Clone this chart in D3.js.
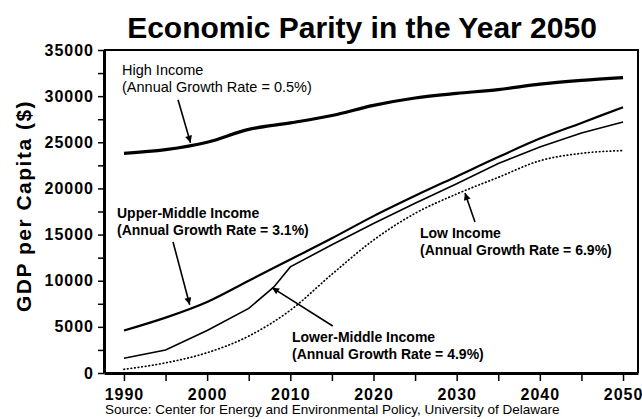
<!DOCTYPE html>
<html>
<head>
<meta charset="utf-8">
<script src="https://cdn.jsdelivr.net/npm/d3@7"></script>
<style>
	body { margin: 0; background: #fff; }
	svg { display: block; font-family: "Liberation Sans", Arial, Helvetica, sans-serif; }
</style>
</head>
<body>
<svg id="chart" width="642" height="419"></svg>
<script>
// Economic Parity in the Year 2050 -- GDP per capita projections by income group

var years = [1990, 1995, 2000, 2005, 2010, 2015, 2020, 2025, 2030, 2035, 2040, 2045, 2050];
var highIncome  = [23800, 24200, 25000, 26400, 27100, 27900, 29000, 29800, 30300, 30700, 31300, 31700, 32000];
var upperMiddle = [4600, 6000, 7700, 10000, 12300, 14600, 17000, 19200, 21300, 23400, 25400, 27100, 28800];
var lowIncome   = [400, 1100, 2200, 4000, 6800, 10700, 14400, 17300, 19400, 21200, 23000, 23800, 24100];
	// Lower-middle has a break in slope around 2008
var lowerYears  = [1990, 1995, 2000, 2005, 2008, 2010, 2015, 2020, 2025, 2030, 2035, 2040, 2045, 2050];
var lowerMiddle = [1600, 2500, 4600, 7000, 9300, 11500, 13900, 16200, 18400, 20500, 22700, 24500, 26000, 27200];

var xTicks = d3.range(1990, 2051, 5);
var yTicks = d3.range(0, 35001, 2500);

	// Labels: text lines, plus arrow tail/tip in data units
var notes = [
	{ lines: ["High Income", "(Annual Growth Rate = 0.5%)"], bold: false, from: [1996.5, 29600], to: [1998, 24950] },
	{ lines: ["Upper-Middle Income", "(Annual Growth Rate = 3.1%)"], bold: true, from: [1995.9, 14200], to: [1997.9, 7400] },
	{ lines: ["Low Income", "(Annual Growth Rate = 6.9%)"], bold: true, from: [2032.2, 16360], to: [2031, 19500] },
	{ lines: ["Lower-Middle Income", "(Annual Growth Rate = 4.9%)"], bold: true, from: [2015.1, 5090], to: [2007.8, 9250] }
];
var notePos = [[122, 75], [117, 218], [420, 238], [292, 342]];

var svg = d3.select("#chart");
var L = 104, R = 638, T = 50, B = 373;

var x = d3.scaleLinear().domain([1987.6, 2051.8]).range([L, R]);
var y = d3.scaleLinear().domain([0, 35000]).range([B, T]);

	// Title
svg.append("text")
	.attr("x", 362).attr("y", 38)
	.attr("text-anchor", "middle")
	.style("font-size", "30px").style("font-weight", "bold")
	.text("Economic Parity in the Year 2050");

	// Frame (top and right)
svg.append("path")
	.attr("d", "M" + L + "," + T + "H" + R + "V" + B)
	.attr("fill", "none").attr("stroke", "#000").attr("stroke-width", 2);

	// Axes
var yAxis = d3.axisLeft(y).tickValues(yTicks).tickSize(6).tickSizeOuter(0)
	.tickFormat(function(d) { return d % 5000 === 0 ? d : ""; });
var gy = svg.append("g").attr("transform", "translate(" + L + ",0)").call(yAxis);

var xAxis = d3.axisBottom(x).tickValues(xTicks).tickSize(8).tickSizeOuter(0)
	.tickFormat(function(d) { return d % 10 === 0 ? d : ""; });
var gx = svg.append("g").attr("transform", "translate(0," + B + ")").call(xAxis);

[gx, gy].forEach(function(g) {
	g.select(".domain").attr("stroke", "#000").attr("stroke-width", 3);
	g.selectAll(".tick line").attr("stroke", "#000").attr("stroke-width", 1.5);
	g.selectAll(".tick text")
		.attr("fill", "#000")
		.style("font-size", "16px").style("font-weight", "bold")
		.style("letter-spacing", "1px")
		.style("font-family", "\"Liberation Sans\", Arial, sans-serif");
});
gy.selectAll(".tick text").attr("x", -10);
gx.selectAll(".tick text").attr("y", 16);

	// Y axis title
svg.append("text")
	.attr("transform", "translate(31,206) rotate(-90)")
	.attr("text-anchor", "middle")
	.style("font-size", "21px").style("font-weight", "bold")
	.style("letter-spacing", "1.5px")
	.text("GDP per Capita ($)");

	// Series lines
function drawSeries(xs, vals, width, dash, curve)
{
	var line = d3.line()
		.x(function(d) { return x(d[0]); })
		.y(function(d) { return y(d[1]); })
		.curve(curve || d3.curveMonotoneX);
	var pts = xs.map(function(yr, i) { return [yr, vals[i]]; });
	svg.append("path")
		.datum(pts)
		.attr("d", line)
		.attr("fill", "none")
		.attr("stroke", "#000")
		.attr("stroke-width", width)
		.attr("stroke-dasharray", dash || null)
		.attr("stroke-linecap", dash ? "round" : "butt");
} // drawSeries()

drawSeries(years, highIncome, 3.2);
drawSeries(years, upperMiddle, 2.2);
drawSeries(lowerYears, lowerMiddle, 1.6, null, d3.curveLinear);
drawSeries(years, lowIncome, 1.7, "0.6,3");

	// Annotations
var defs = svg.append("defs");
defs.append("marker")
	.attr("id", "arrow")
	.attr("viewBox", "0 0 10 10")
	.attr("refX", 10).attr("refY", 5)
	.attr("markerWidth", 13).attr("markerHeight", 7)
	.attr("markerUnits", "userSpaceOnUse")
	.attr("orient", "auto")
	.append("path")
	.attr("d", "M0,0L10,5L0,10Z")
	.attr("fill", "#000");

notes.forEach(function(n, i) {
	var t = svg.append("text")
		.attr("x", notePos[i][0]).attr("y", notePos[i][1])
		.style("font-size", n.bold ? "14px" : "14.5px")
		.style("font-weight", n.bold ? "bold" : "normal");
	n.lines.forEach(function(s, j) {
		t.append("tspan")
			.attr("x", notePos[i][0])
			.attr("dy", j === 0 ? 0 : 17)
			.text(s);
	});
	svg.append("line")
		.attr("x1", x(n.from[0])).attr("y1", y(n.from[1]))
		.attr("x2", x(n.to[0])).attr("y2", y(n.to[1]))
		.attr("stroke", "#000").attr("stroke-width", 1.6)
		.attr("marker-end", "url(#arrow)");
});

	// Source line
svg.append("text")
	.attr("x", 105).attr("y", 414)
	.style("font-size", "13.5px")
	.text("Source: Center for Energy and Environmental Policy, University of Delaware");
</script>
</body>
</html>
